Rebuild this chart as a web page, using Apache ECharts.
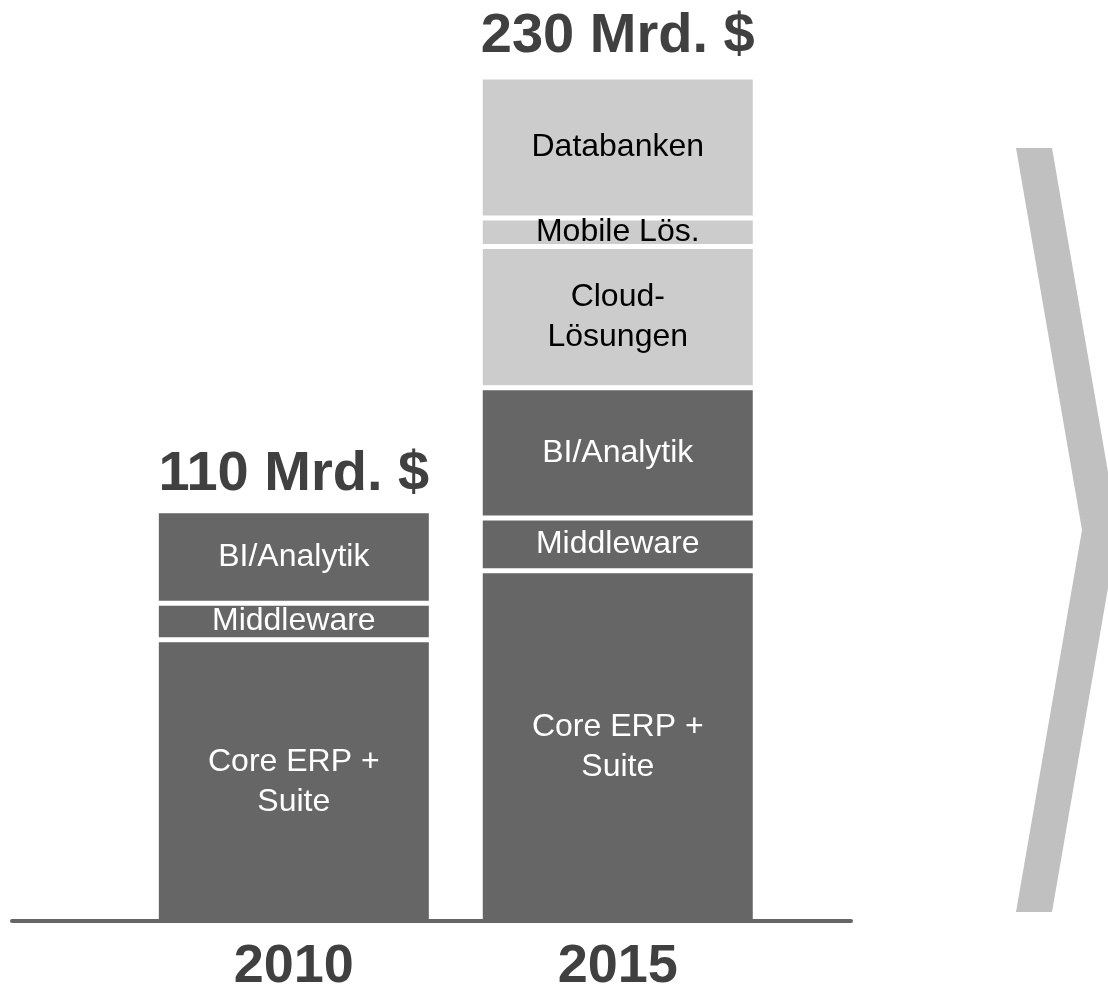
<!DOCTYPE html>
<html lang="de">
  <head>
    <meta charset="UTF-8" />
    <meta name="viewport" content="width=device-width, initial-scale=1.0" />
    <title>Marktvolumen</title>
    <script src="https://cdn.jsdelivr.net/npm/echarts@6.0.0/dist/echarts.min.js"></script>
    <style>
      html,
      body {
        margin: 0;
        padding: 0;
        background: #fff;
      }
      #main {
        width: 1108px;
        height: 990px;
      }
    </style>
  </head>
  <body>
    <div id="main"></div>
    <script>
      // Daten (in Mrd. $, aus der Grafik geschätzt)
      const years = [2010, 2015]
      const totals = ['110 Mrd. $', '230 Mrd. $']
      const coreErp = [76.8, 95.5]
      const middleware = [9.9, 14.2]
      const biAnalytik = [25, 35.2]
      const cloud = [null, 38.2]
      const mobile = [null, 7.7]
      const databanken = [null, 38.1]

      const dark = '#666666'
      const light = '#cccccc'
      const font = '"Liberation Sans", Arial, sans-serif'

      const myChart = echarts.init(document.getElementById('main'))

      // Wert zuerst, Jahr als x: so wird auf der y-Dimension gestapelt
      function segment(name, text, values, color, textColor) {
        return {
          name: name,
          type: 'bar',
          stack: 'total',
          barWidth: 275,
          silent: true,
          encode: { x: 1, y: 0 },
          data: values.map((v, i) => [v == null ? '-' : v, years[i]]),
          itemStyle: { color: color, borderColor: '#fff', borderWidth: 2.5 },
          label: {
            show: true,
            position: 'inside',
            formatter: text,
            color: textColor,
            fontFamily: font,
            fontSize: 32,
            lineHeight: 40,
          },
        }
      }

      const option = {
        animation: false,
        grid: { left: 12, right: 257, top: 36, bottom: 66, outerBoundsMode: 'none' },
        xAxis: {
          type: 'value',
          min: 2005.65,
          max: 2018.6,
          z: 10,
          offset: -3,
          axisLine: { show: true, onZero: false, lineStyle: { color: dark, width: 4 } },
          splitLine: { show: false },
          axisTick: { show: false },
          axisLabel: {
            customValues: years,
            formatter: (v) => String(v),
            margin: 19,
            fontSize: 54,
            fontWeight: 'bold',
            color: '#404040',
            fontFamily: font,
          },
        },
        yAxis: { type: 'value', min: 0, max: 240, show: false },
        graphic: [
          {
            type: 'polygon',
            silent: true,
            shape: {
              points: [
                [1016, 148],
                [1052, 148],
                [1118, 530],
                [1052, 912],
                [1016, 912],
                [1082, 530],
              ],
            },
            style: { fill: '#c0c0c0' },
          },
        ],
        series: [
          segment('Core ERP', 'Core ERP +\nSuite', coreErp, dark, '#fff'),
          segment('Middleware', 'Middleware', middleware, dark, '#fff'),
          segment('BI', 'BI/Analytik', biAnalytik, dark, '#fff'),
          segment('Cloud', 'Cloud-\nLösungen', cloud, light, '#000'),
          segment('Mobile', 'Mobile Lös.', mobile, light, '#000'),
          segment('Databanken', 'Databanken', databanken, light, '#000'),
          {
            name: 'Gesamt',
            type: 'bar',
            stack: 'total',
            barWidth: 275,
            silent: true,
            encode: { x: 1, y: 0 },
            data: years.map((y, i) => ({
              value: [0, y],
              label: { distance: i === 0 ? 8 : 13 },
            })),
            itemStyle: { color: 'transparent', borderWidth: 0 },
            label: {
              show: true,
              position: 'top',
              formatter: (p) => totals[p.dataIndex],
              fontFamily: font,
              fontSize: 56,
              fontWeight: 'bold',
              color: '#404040',
            },
          },
        ],
      }

      myChart.setOption(option)
    </script>
  </body>
</html>
